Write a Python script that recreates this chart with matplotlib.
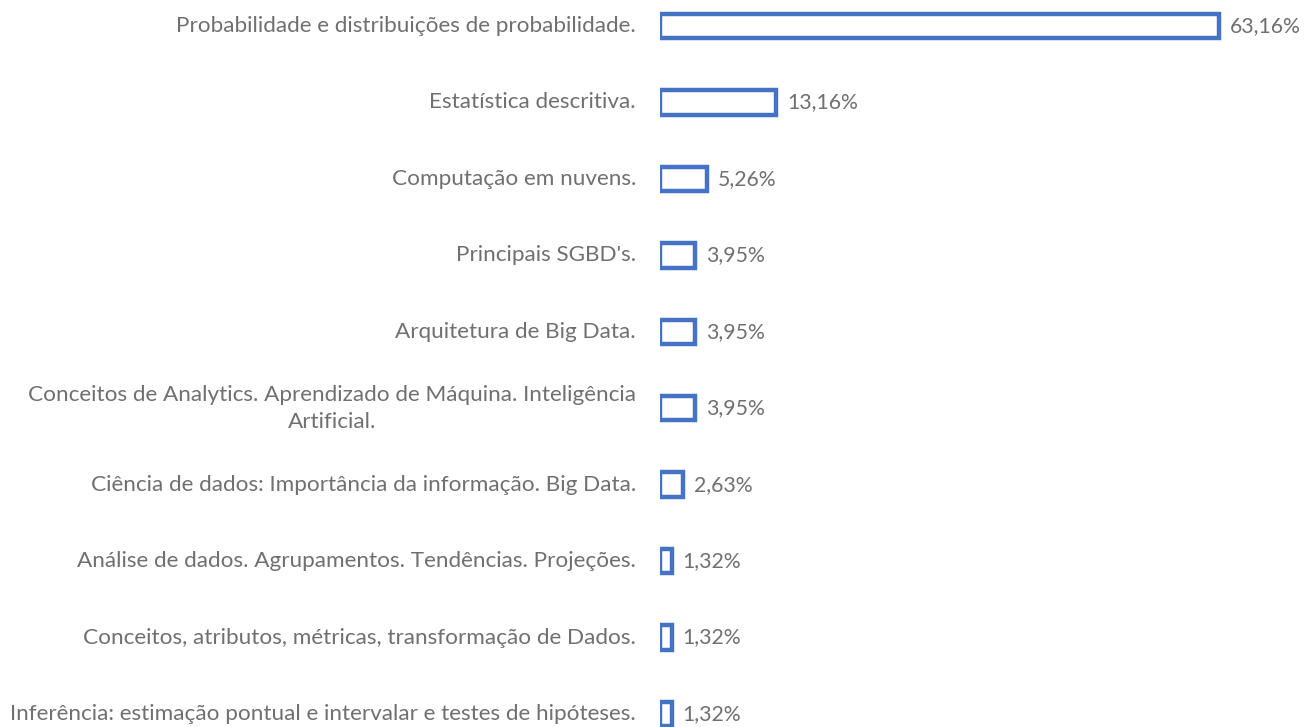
import matplotlib
matplotlib.use("Agg")
import matplotlib.pyplot as plt
from matplotlib.transforms import offset_copy

categories = [
    "Probabilidade e distribuições de probabilidade.",
    "Estatística descritiva.",
    "Computação em nuvens.",
    "Principais SGBD's.",
    "Arquitetura de Big Data.",
    "Conceitos de Analytics. Aprendizado de Máquina. Inteligência\nArtificial.",
    "Ciência de dados: Importância da informação. Big Data.",
    "Análise de dados. Agrupamentos. Tendências. Projeções.",
    "Conceitos, atributos, métricas, transformação de Dados.",
    "Inferência: estimação pontual e intervalar e testes de hipóteses.",
]
values = [63.16, 13.16, 5.26, 3.95, 3.95, 3.95, 2.63, 1.32, 1.32, 1.32]
value_labels = ["63,16%", "13,16%", "5,26%", "3,95%", "3,95%", "3,95%", "2,63%", "1,32%", "1,32%", "1,32%"]

W, H = 1305, 727
fig = plt.figure(figsize=(W / 100, H / 100), dpi=100)
ax_left = 660
ax = fig.add_axes([ax_left / W, 0, (W - ax_left) / W, 1])
px_per_unit = (1219 - 660) / 63.16
ax.set_xlim(0, (W - ax_left) / px_per_unit)
row = 76.44
ax.set_ylim((H - 26) / row, -26 / row)

color = "#4472C4"
text_color = "#707070"
ypos = list(range(len(categories)))
ax.barh(ypos, values, height=0.32, facecolor="white", edgecolor=color, linewidth=3.2)
for y, v, lab in zip(ypos, values, value_labels):
    t = offset_copy(ax.transData, fig=fig, x=11, y=0, units="dots")
    ax.text(v, y, lab, transform=t, ha="left", va="center", fontsize=15.3, color=text_color, family="Lato")
for y, cat in zip(ypos, categories):
    t = offset_copy(ax.transData, fig=fig, x=-24, y=0, units="dots")
    ax.text(0, y, cat, transform=t, ha="right", va="center", multialignment="center",
            fontsize=16.2, color=text_color, family="Lato", clip_on=False, linespacing=1.45)
ax.axis("off")
fig.savefig("out.png", dpi=100)
